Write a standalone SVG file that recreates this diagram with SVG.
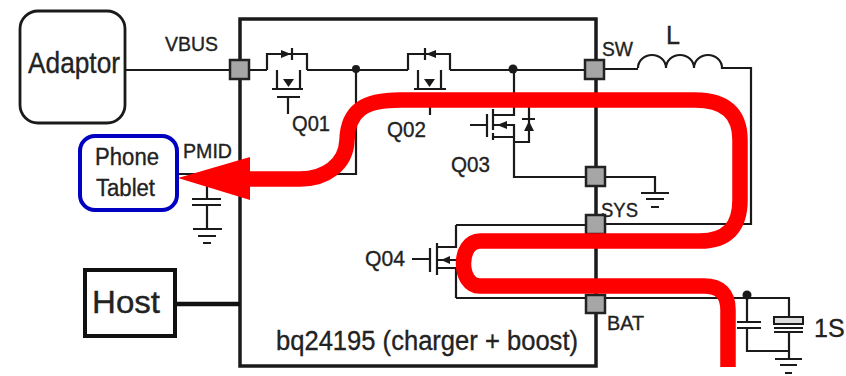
<svg xmlns="http://www.w3.org/2000/svg" width="846" height="376" viewBox="0 0 846 376">
<defs><style>
text{font-family:"Liberation Sans",Arial,sans-serif;fill:#222;stroke:#222;stroke-width:.35}
.w{fill:none;stroke:#1a1a1a;stroke-width:2.200}
.a{fill:#1a1a1a;stroke:none}
.p{fill:#a6a6a6;stroke:#222;stroke-width:2.500}
.q{font-size:22px}
.s{font-size:20px}
</style></defs>
<rect width="846" height="376" fill="#fff"/>
<g id="chip"><rect x="240" y="19" width="356" height="347" fill="none" stroke="#1a1a1a" stroke-width="3.500"/></g>
<g id="connectors">
<path class="w" d="M125 70H267M307 70H408M450 70H594M604 69H638M356 70V174H310"/>
<path class="w" d="M638 68a14 13 0 0 1 28 0a14 13 0 0 1 28 0a14 13 0 0 1 28 0H751V224H605"/>
<path class="w" d="M514 137V177H655V192"/>
<path class="w" d="M456 225H586M456 298H790M747 298V322M747 328V351H789M789 298V317M789 332V358"/>
<path class="w" d="M178 174H207V198M207 205V229"/>
<path d="M175 304H240" fill="none" stroke="#111" stroke-width="4.500"/>
</g>
<g id="Q01">
<path class="w" d="M267 70V54H307V70M277 70V89M300 70V89M272 89H303M277 97H300M288 97V114M292 48V60"/>
<path class="a" d="M281 50L291 54L281 58ZM283 79H294L288.500 87Z"/>
<text class="q" x="292" y="131" textLength="38" lengthAdjust="spacingAndGlyphs">Q01</text>
</g>
<g id="Q02">
<path class="w" d="M408 70V54H450V70M418 70V89M441 70V89M414 89H446M430 107V115M425 48V60"/>
<path class="a" d="M436 50L426 54L436 58ZM424 79H435L429.500 87Z"/>
<text class="q" x="387" y="137" textLength="39" lengthAdjust="spacingAndGlyphs">Q02</text>
</g>
<g id="Q03">
<path class="w" d="M470 125H487M487 114V137M493 109V120M493 120V130M493 133V140M493 115H514V70M493 125H514V137M493 137H514M514 142H529V107M522 119H535"/>
<path class="a" d="M497 125L507 121V129ZM529 121L534 131H524Z"/>
<text class="q" x="451" y="172" textLength="39" lengthAdjust="spacingAndGlyphs">Q03</text>
</g>
<g id="Q04">
<path class="w" d="M412 259H430M430 248V272M437 243V275M437 247H456V225M437 260H456M437 268H456V298"/>
<path class="a" d="M441 260L450 256V264Z"/>
<text class="q" x="365" y="266" textLength="40" lengthAdjust="spacingAndGlyphs">Q04</text>
</g>
<g id="dots">
<circle class="a" cx="356" cy="69" r="4"/><circle class="a" cx="513" cy="69" r="4.500"/><circle class="a" cx="747" cy="295" r="4.500"/>
</g>
<g id="grounds">
<path class="w" d="M641 193H669M646 199H664M651 207H659M775 359H802M780 365H797M785 373H792M193 229H222M198 236H216M203 243H211"/>
<path class="w" d="M192 199H221M192 205H221M737 322H761M737 328H761"/>
<path class="w" d="M774 328H803M774 332H803"/>
<rect x="774" y="317" width="29" height="7" fill="#ddd" stroke="#1a1a1a" stroke-width="2"/>
<text x="814" y="337" font-size="25">1S</text>
</g>
<g id="pads">
<rect class="p" x="230" y="60" width="19" height="19"/>
<rect class="p" x="585" y="60" width="19" height="19"/>
<rect class="p" x="586" y="167" width="19" height="19"/>
<rect class="p" x="586" y="215" width="19" height="19"/>
<rect class="p" x="586" y="295" width="19" height="18"/>
</g>
<g id="flow">
<path d="M728 367V310Q728 286 704 286H480C458 286 458 241 480 241H700Q740 241 740 200V140Q740 100 695 100H400C365 100 348 110 347 140C346 165 325 179 300 179H245" fill="none" stroke="#f00" stroke-width="15.500"/>
<path d="M178 178L250 157V200Z" fill="#f00"/>
</g>
<g id="adaptor"><rect x="20" y="11" width="105" height="112" rx="18" fill="#fff" stroke="#1a1a1a" stroke-width="2.800"/><text x="28" y="73" font-size="30" textLength="92" lengthAdjust="spacingAndGlyphs">Adaptor</text></g>
<g id="phone"><rect x="80" y="136" width="97" height="74" rx="15" fill="#fff" stroke="#0000c0" stroke-width="4"/><text x="95" y="165" font-size="23" textLength="64" lengthAdjust="spacingAndGlyphs">Phone</text><text x="96" y="196" font-size="23" textLength="59" lengthAdjust="spacingAndGlyphs">Tablet</text></g>
<g id="host"><rect x="85" y="270" width="90" height="66" fill="#fff" stroke="#111" stroke-width="4"/><text x="92" y="313" font-size="31" textLength="68" lengthAdjust="spacingAndGlyphs">Host</text></g>
<g id="labels">
<text class="s" x="165" y="51" textLength="53" lengthAdjust="spacingAndGlyphs">VBUS</text>
<text class="s" x="183" y="158" textLength="49" lengthAdjust="spacingAndGlyphs">PMID</text>
<text class="s" x="602" y="56" textLength="31" lengthAdjust="spacingAndGlyphs">SW</text>
<text class="s" x="601" y="217" textLength="37" lengthAdjust="spacingAndGlyphs">SYS</text>
<text class="s" x="607" y="330" textLength="37" lengthAdjust="spacingAndGlyphs">BAT</text>
<text x="666" y="44" font-size="26" textLength="14" lengthAdjust="spacingAndGlyphs">L</text>
<text x="276" y="350" font-size="27" textLength="302" lengthAdjust="spacingAndGlyphs">bq24195 (charger + boost)</text>
</g>
</svg>
